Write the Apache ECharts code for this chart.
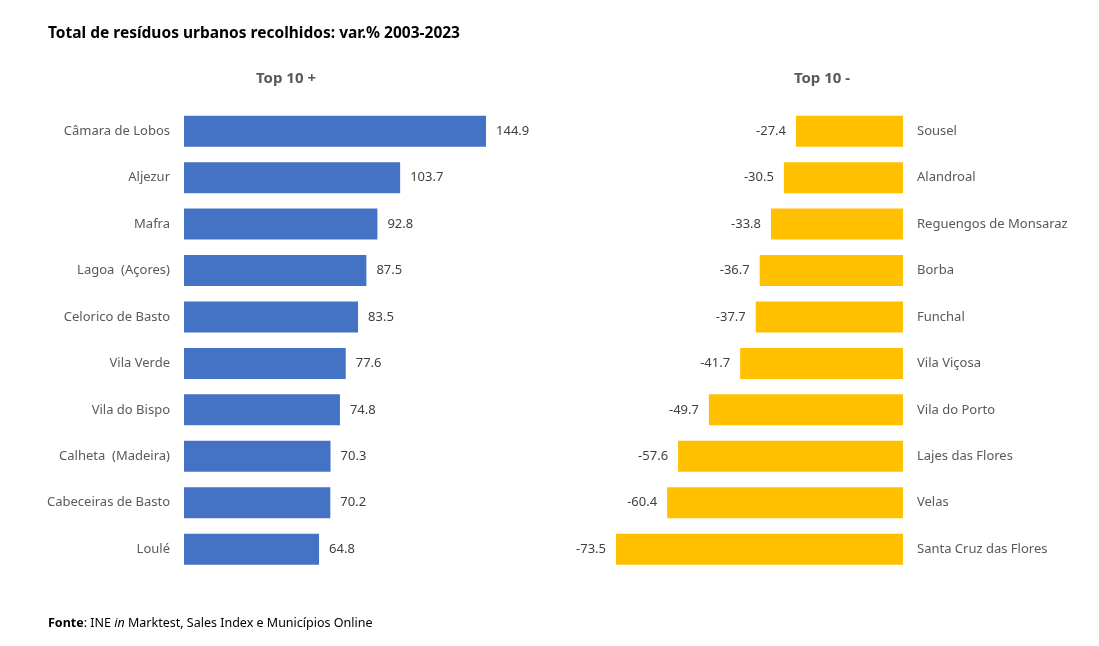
<!DOCTYPE html>
<html>
<head>
<meta charset="utf-8">
<script src="https://cdn.jsdelivr.net/npm/echarts@6/dist/echarts.min.js"></script>
<style>html,body{margin:0;padding:0;background:#fff}#c{width:1099px;height:646px}</style>
</head>
<body>
<div id="c"></div>
<script>
const topCats = ["Câmara de Lobos","Aljezur","Mafra","Lagoa  (Açores)","Celorico de Basto","Vila Verde","Vila do Bispo","Calheta  (Madeira)","Cabeceiras de Basto","Loulé"];
const topVals = [144.9,103.7,92.8,87.5,83.5,77.6,74.8,70.3,70.2,64.8];
const botCats = ["Sousel","Alandroal","Reguengos de Monsaraz","Borba","Funchal","Vila Viçosa","Vila do Porto","Lajes das Flores","Velas","Santa Cruz das Flores"];
const botVals = [-27.4,-30.5,-33.8,-36.7,-37.7,-41.7,-49.7,-57.6,-60.4,-73.5];

const FONT = "Noto Sans";
const GRAY = "#595959";
const chart = echarts.init(document.getElementById('c'));
chart.setOption({
  animation:false,
  textStyle:{fontFamily:FONT},
  title:[
    {text:"Total de resíduos urbanos recolhidos: var.% 2003-2023", left:48, top:26, padding:0,
     textStyle:{fontFamily:FONT,fontSize:15.5,fontWeight:'bold',color:'#000'}},
    {text:"Top 10 +", left:286, top:71, padding:0, textAlign:'center',
     textStyle:{fontFamily:FONT,fontSize:15,fontWeight:'bold',color:GRAY}},
    {text:"Top 10 -", left:822, top:71, padding:0, textAlign:'center',
     textStyle:{fontFamily:FONT,fontSize:15,fontWeight:'bold',color:GRAY}}
  ],
  graphic:[{
    type:'text', left:48, top:617,
    style:{
      text:"{b|Fonte}: INE {i|in} Marktest, Sales Index e Municípios Online",
      fontFamily:FONT, fontSize:12.5, fill:'#000',
      rich:{b:{fontWeight:'bold',fontFamily:FONT,fontSize:12.5},i:{fontStyle:'italic',fontFamily:FONT,fontSize:12.5}}
    }
  }],
  grid:[
    {left:184, top:108, width:333.5, height:464.4},
    {left:590.6, top:108, width:312.4, height:464.4}
  ],
  xAxis:[
    {gridIndex:0, type:'value', min:0, max:160, show:false},
    {gridIndex:1, type:'value', min:-80, max:0, show:false}
  ],
  yAxis:[
    {gridIndex:0, type:'category', data:topCats, inverse:true,
     axisLine:{show:false}, axisTick:{show:false},
     axisLabel:{color:GRAY, fontSize:13, margin:14, fontFamily:FONT}},
    {gridIndex:1, type:'category', data:botCats, inverse:true, position:'right',
     axisLine:{show:false}, axisTick:{show:false},
     axisLabel:{color:GRAY, fontSize:13, margin:14, fontFamily:FONT}}
  ],
  series:[
    {type:'bar', xAxisIndex:0, yAxisIndex:0, data:topVals, barWidth:31,
     itemStyle:{color:'#4472C4'},
     label:{show:true, position:'right', distance:10, color:'#404040', fontSize:13, fontFamily:FONT,
            formatter:p=>p.value.toFixed(1)}},
    {type:'bar', xAxisIndex:1, yAxisIndex:1, data:botVals, barWidth:31,
     itemStyle:{color:'#FFC000'},
     label:{show:true, position:'left', distance:10, color:'#404040', fontSize:13, fontFamily:FONT,
            formatter:p=>p.value.toFixed(1)}}
  ]
});
</script>
</body>
</html>
